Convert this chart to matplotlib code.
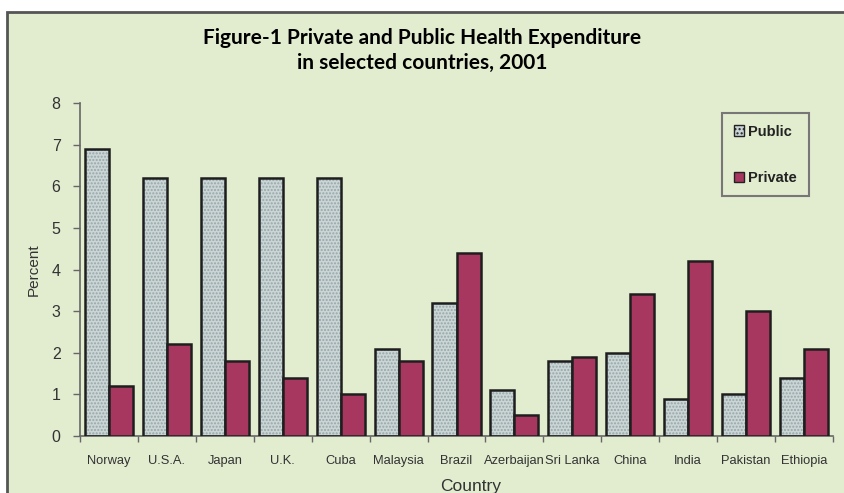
import matplotlib
matplotlib.use('Agg')
from matplotlib import pyplot as plt
from matplotlib.patches import Rectangle, Patch
import numpy as np

# Dados
countries = ['Norway', 'U.S.A.', 'Japan', 'U.K.', 'Cuba', 'Malaysia', 'Brazil',
             'Azerbaijan', 'Sri Lanka', 'China', 'India', 'Pakistan', 'Ethiopia']
public = [6.9, 6.2, 6.2, 6.2, 6.2, 2.1, 3.2, 1.1, 1.8, 2.0, 0.9, 1.0, 1.4]
private = [1.2, 2.2, 1.8, 1.4, 1.0, 1.8, 4.4, 0.5, 1.9, 3.4, 4.2, 3.0, 2.1]
y_ticks = [0, 1, 2, 3, 4, 5, 6, 7, 8]

bg = '#E2ECCF'
public_color = '#CAD5D6'
private_color = '#A8375F'

fig = plt.figure(figsize=(8.44, 4.93), dpi=100, facecolor='white')

# Moldura verde de fundo
fig.patches.append(Rectangle((7 / 844, -0.05), 1.0, 1 - 12 / 493 + 0.05,
                             transform=fig.transFigure, facecolor=bg,
                             edgecolor='#555555', linewidth=2, zorder=-10))

ax = fig.add_axes([80 / 844, 1 - 436 / 493, (833 - 80) / 844, (436 - 103) / 493])
ax.set_facecolor('none')

x = np.arange(len(countries))
w = 0.415

# Barras públicas com padrão pontilhado
ax.bar(x - w / 2, public, w, color=public_color, hatch='.....',
       edgecolor='#98A6A8', linewidth=0, zorder=2)
ax.bar(x - w / 2, public, w, fill=False, edgecolor='#1E1E1E', linewidth=1.8, zorder=3)
ax.bar(x + w / 2, private, w, color=private_color, edgecolor='#1E1E1E',
       linewidth=1.8, zorder=3)

ax.set_xlim(-0.5, len(countries) - 0.5)
ax.set_ylim(0, 8)
ax.set_yticks(y_ticks)
ax.tick_params(axis='y', length=5, width=1, color='#666666', pad=9,
               labelsize=11.5, labelcolor='#333333')
ax.set_xticks(x)
ax.set_xticklabels(countries, fontsize=9.3, color='#333333')
ax.set_xticks(np.arange(-0.5, len(countries), 1), minor=True)
ax.tick_params(axis='x', which='major', length=0, pad=14)
ax.tick_params(axis='x', which='minor', length=4, width=1, color='#666666')

for s in ['top', 'right']:
    ax.spines[s].set_visible(False)
for s in ['left', 'bottom']:
    ax.spines[s].set_color('#666666')
    ax.spines[s].set_linewidth(1.2)

for lbl in ax.get_xticklabels() + ax.get_yticklabels():
    lbl.set_family('Liberation Sans')

ax.set_ylabel('Percent', fontsize=11, family='Liberation Sans', color='#333333', labelpad=8)
fig.text(471 / 844, 1 - 487 / 493, 'Country', fontsize=12.5, family='Liberation Sans',
         color='#333333', ha='center', va='center')

# Título
fig.text(0.5, 1 - 38 / 493, 'Figure-1 Private and Public Health Expenditure',
         fontsize=15, fontweight='bold', family='Lato', ha='center', va='center')
fig.text(0.5, 1 - 63 / 493, 'in selected countries, 2001',
         fontsize=15, fontweight='bold', family='Lato', ha='center', va='center')

# Legenda
handles = [Patch(facecolor=public_color, edgecolor='#222222', hatch='....'),
           Patch(facecolor=private_color, edgecolor='#222222')]
leg = fig.legend(handles, ['Public', 'Private'], loc='upper left',
                 bbox_to_anchor=(722 / 844, 1 - 113 / 493),
                 frameon=True, fancybox=False, edgecolor='#777777',
                 facecolor=bg, framealpha=1, handlelength=0.7, handleheight=0.7,
                 handletextpad=0.3, labelspacing=2.2, borderpad=0.8, borderaxespad=0,
                 prop={'family': 'Liberation Sans', 'weight': 'bold', 'size': 10.5})
leg.get_frame().set_linewidth(1.5)
for t in leg.get_texts():
    t.set_color('#222222')

fig.savefig('out.png', dpi=100, facecolor='white')
